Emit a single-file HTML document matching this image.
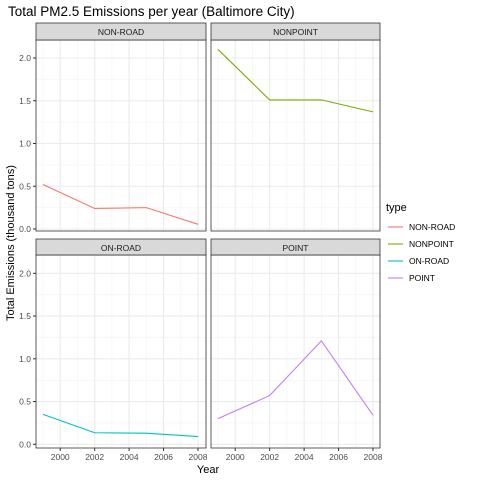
<!DOCTYPE html>
<html><head><meta charset="utf-8"><style>
body{margin:0;background:#fff}
svg{display:block;font-family:"Liberation Sans",sans-serif}
</style></head><body>
<svg id="c" width="480" height="480"></svg>
<script>
const years=[1999,2002,2005,2008];
const types=["NON-ROAD","NONPOINT","ON-ROAD","POINT"];
const nonRoad=[0.52,0.24,0.25,0.055];
const nonPoint=[2.10,1.51,1.51,1.37];
const onRoad=[0.35,0.135,0.13,0.09];
const point=[0.30,0.57,1.21,0.34];
const series=[nonRoad,nonPoint,onRoad,point];
const colors=["#F8766D","#7CAE00","#00BFC4","#C77CFF"];
const yTicks=[0,0.5,1.0,1.5,2.0];
const yTickLabels=["0.0","0.5","1.0","1.5","2.0"];
const xTicks=[2000,2002,2004,2006,2008];

const NS="http://www.w3.org/2000/svg";
const svg=document.getElementById('c');
function mk(tag,attrs,parent){const e=document.createElementNS(NS,tag);for(const k in attrs)e.setAttribute(k,attrs[k]);(parent||svg).appendChild(e);return e;}
const panels=[{x0:36,x1:206,y0:40,y1:231,hy:23},{x0:211,x1:380,y0:40,y1:231,hy:23},{x0:36,x1:206,y0:255,y1:448,hy:239},{x0:211,x1:380,y0:255,y1:448,hy:239}];
const zeroY=[229,229,444.3,444.3];
function sx(p,v){return p.x0+7+(v-1999)*(155/9);}
function sy(i,v){return zeroY[i]-v*85.5;}

let t=mk('text',{x:8,y:16,'font-size':'13.5',fill:'#000'});

t.textContent='Total PM2.5 Emissions per year (Baltimore City)';

panels.forEach((p,i)=>{
  const g=mk('g',{});
  
  
  mk('rect',{x:p.x0,y:p.y0,width:p.x1-p.x0,height:p.y1-p.y0,fill:'#fff'},g);
  // minor grid
  for(let v=0.25;v<2.3;v+=0.5){const y=sy(i,v);if(y>p.y0)mk('line',{x1:p.x0,x2:p.x1,y1:y,y2:y,stroke:'#F2F2F2','stroke-width':0.6},g);}
  for(let v=1999;v<=2009;v+=2){const x=sx(p,v);if(x>p.x0&&x<p.x1)mk('line',{x1:x,x2:x,y1:p.y0,y2:p.y1,stroke:'#F2F2F2','stroke-width':0.6},g);}
  yTicks.forEach(v=>{const y=sy(i,v);mk('line',{x1:p.x0,x2:p.x1,y1:y,y2:y,stroke:'#EBEBEB','stroke-width':1.1},g);});
  xTicks.forEach(v=>{const x=sx(p,v);mk('line',{x1:x,x2:x,y1:p.y0,y2:p.y1,stroke:'#EBEBEB','stroke-width':1.1},g);});
  const pts=years.map((y,k)=>sx(p,y)+','+sy(i,series[i][k])).join(' ');
  const l=mk('polyline',{points:pts,fill:'none',stroke:colors[i],'stroke-width':1.1},g);
  
  
  mk('rect',{x:p.x0,y:p.y0,width:p.x1-p.x0,height:p.y1-p.y0,fill:'none',stroke:'#333','stroke-width':0.8},g);
  const s=mk('rect',{x:p.x0,y:p.hy,width:p.x1-p.x0,height:p.y0-p.hy,fill:'#D9D9D9',stroke:'#333','stroke-width':0.8},g);
  
  
  const st=mk('text',{x:(p.x0+p.x1)/2,y:p.hy+12,'font-size':'8.5','text-anchor':'middle',fill:'#1A1A1A'},g);
  st.textContent=types[i];
  if(i%2===0){yTicks.forEach((v,k)=>{const y=sy(i,v);mk('line',{x1:p.x0-3,x2:p.x0,y1:y,y2:y,stroke:'#333'},g);
    const tt=mk('text',{x:p.x0-5,y:y+3,'font-size':'8.5','text-anchor':'end',fill:'#4D4D4D'},g);
    tt.textContent=yTickLabels[k];});}
  if(i>=2){xTicks.forEach(v=>{const x=sx(p,v);mk('line',{x1:x,x2:x,y1:p.y1,y2:p.y1+3,stroke:'#333'},g);
    const tt=mk('text',{x:x,y:p.y1+12,'font-size':'8.5','text-anchor':'middle',fill:'#4D4D4D'},g);
    tt.textContent=v;});}
});
t=mk('text',{x:208,y:473,'font-size':'11','text-anchor':'middle'});
t.textContent='Year';
t=mk('text',{x:0,y:0,'font-size':'11','text-anchor':'middle',transform:'translate(14,243) rotate(-90)'});
t.textContent='Total Emissions (thousand tons)';
const lg=mk('g',{});

t=mk('text',{x:386,y:211,'font-size':'11'},lg);t.textContent='type';
types.forEach((ty,k)=>{const y=227+k*17;
  const e=mk('g',{},lg);
  
  
  mk('line',{x1:388,x2:403,y1:y,y2:y,stroke:colors[k],'stroke-width':1.1},e);
  const tt=mk('text',{x:409,y:y+3,'font-size':'8.5',fill:'#000'},e);tt.textContent=ty;});
</script>
</body></html>
